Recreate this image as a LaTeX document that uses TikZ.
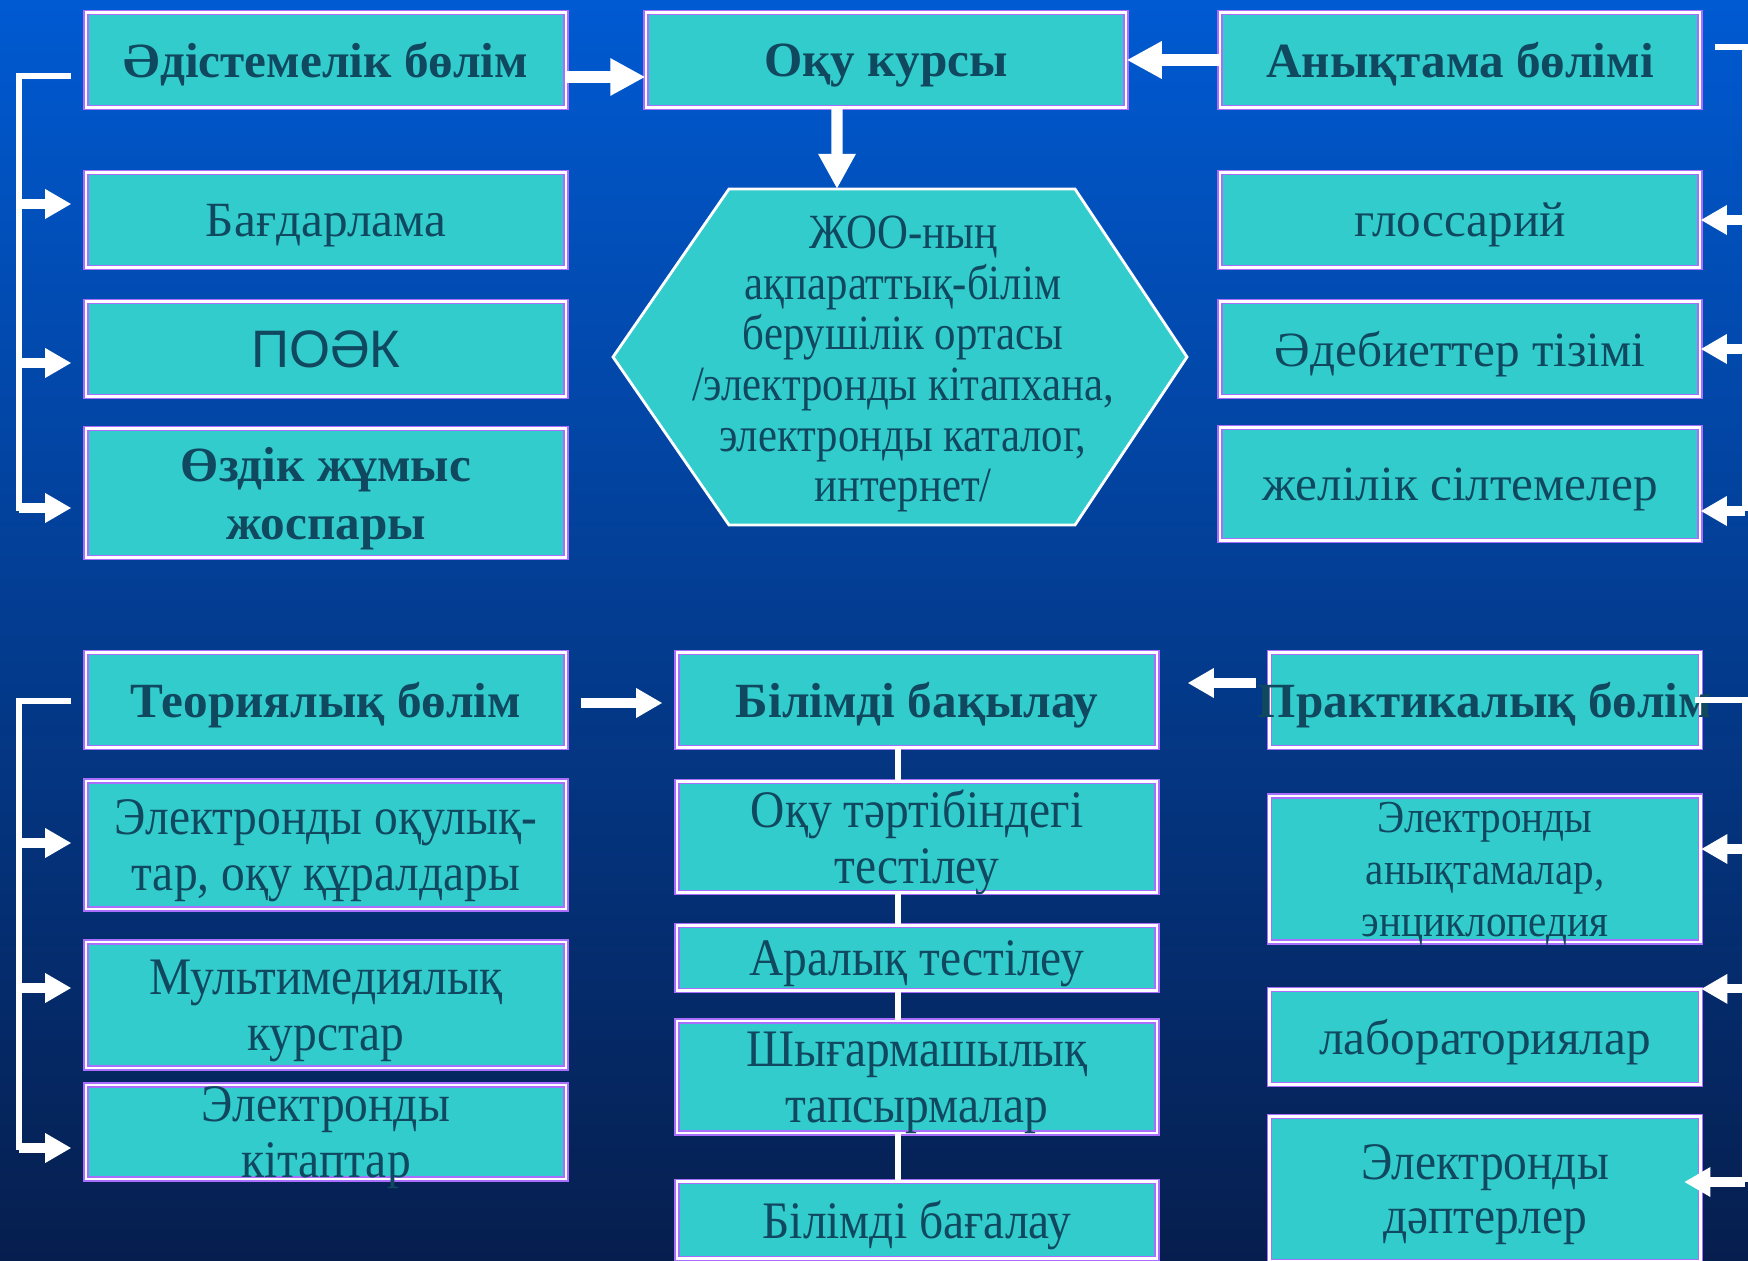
\documentclass[tikz,border=0pt]{standalone}
\usepackage{fontspec}
\setmainfont{Liberation Serif}
\newfontfamily\poakfont{Liberation Sans}
\newfontfamily\narrowfont[FakeStretch=0.9]{Liberation Serif}
\newfontfamily\hexfont[FakeStretch=0.87]{Liberation Serif}
\usetikzlibrary{arrows.meta}

\definecolor{boxfill}{RGB}{51,204,204}
\definecolor{boxtext}{RGB}{16,72,96}
\definecolor{boxedge}{RGB}{170,110,255}
\definecolor{bgtop}{RGB}{0,90,210}
\definecolor{bgmid}{RGB}{8,62,160}
\definecolor{bgbot}{RGB}{6,30,78}

\begin{document}
\begin{tikzpicture}[x=0.1mm,y=-0.1mm]
		\tikzstyle{box}=[draw=boxedge,line width=0.35pt,double=white,double distance=0.8pt,fill=boxfill,text=boxtext,align=center,inner sep=0pt,text depth=0pt,minimum width=48mm,minimum height=9.5mm,font=\fontsize{14}{14.5}\selectfont]
		\tikzstyle{headbox}=[box,font=\fontsize{14}{14.5}\selectfont\bfseries]
		\tikzstyle{bigbox}=[box,font=\fontsize{15}{16}\narrowfont]
		\tikzstyle{hexa}=[draw=white,line width=0.8pt,fill=boxfill]
		\tikzstyle{bracket}=[white,line width=1.7pt]
		\tikzstyle{link}=[white,line width=1.7pt]
		\tikzstyle{bigarrow}=[white,line width=3.2pt,arrows={-Triangle[width=10pt,length=10pt]}]
		\tikzstyle{sidearrow}=[white,line width=2.6pt,arrows={-Triangle[width=8pt,length=7.5pt]}]

		\useasboundingbox (0,0) rectangle (1748,1261);
		\shade[top color=bgtop,middle color=bgmid,bottom color=bgbot] (0,0) rectangle (1748,1261);

		% upper half
		\node[headbox] (method) at (326,60) {Әдістемелік бөлім};
		\node[headbox] (course) at (886,60) {Оқу курсы};
		\node[headbox] (reference) at (1460,60) {Анықтама бөлімі};
		\node[box] (program) at (326,220) {Бағдарлама};
		\node[box,font=\fontsize{15}{16}\poakfont] (poak) at (326,349) {ПОӘК};
		\node[headbox,minimum height=12.9mm,font=\fontsize{14}{16.5}\selectfont\bfseries] (selfwork) at (326,493) {Өздік жұмыс\\жоспары};
		\node[box] (glossary) at (1460,220) {глоссарий};
		\node[box] (literature) at (1460,349) {Әдебиеттер тізімі};
		\node[box,minimum height=11.3mm] (links) at (1460,484) {желілік сілтемелер};

		\draw[hexa] (613,357) -- (729,189) -- (1075,189) -- (1187,357) -- (1075,525) -- (729,525) -- cycle;
		\coordinate (hextop) at (837,189);
		\node[text=boxtext,align=center,text depth=0pt,font=\fontsize{14}{14.4}\hexfont] (env) at (903,359) {ЖОО-ның\\ақпараттық-білім\\берушілік ортасы\\/электронды кітапхана,\\электронды каталог,\\интернет/};

		\draw[bigarrow] ([yshift=-1.7mm]method.east) -- ([yshift=-1.7mm]course.west);
		\draw[bigarrow] (reference.west) -- (course.west -| course.east);
		\draw[bigarrow] ([xshift=-4.9mm]course.south) -- (hextop);

		\coordinate (lt) at (19,76);
		\coordinate (lb) at (19,511);
		\draw[bracket] ([xshift=-1.4mm,yshift=-1.6mm]method.west) -| (lb);
		\draw[sidearrow,shorten >=1.4mm] ([yshift=1.6mm]program.west -| lt) -- ([yshift=1.6mm]program.west);
		\draw[sidearrow,shorten >=1.4mm] ([yshift=-1.4mm]poak.west -| lt) -- ([yshift=-1.4mm]poak.west);
		\draw[sidearrow,shorten >=1.4mm] ([yshift=-1.5mm]selfwork.west -| lt) -- ([yshift=-1.5mm]selfwork.west);

		\coordinate (rt) at (1745,47);
		\coordinate (rb) at (1745,511);
		\draw[bracket] (1715,47) -- (rt) -- (rb);
		\draw[sidearrow] (glossary.east -| rt) -- (glossary.east);
		\draw[sidearrow] (literature.east -| rt) -- (literature.east);
		\draw[sidearrow] ([yshift=-2.7mm]links.east -| rt) -- ([yshift=-2.7mm]links.east);

		% lower half
		\node[headbox] (theory) at (326,700) {Теориялық бөлім};
		\node[headbox] (control) at (917,700) {Білімді бақылау};
		\node[headbox,minimum width=43.1mm] (practice) at (1485,700) {\makebox[0pt]{Практикалық бөлім}};

		\node[bigbox,minimum height=12.8mm] (textbooks) at (326,845) {Электронды оқулық-\\тар, оқу құралдары};
		\node[bigbox,minimum height=12.6mm] (multimedia) at (326,1005) {Мультимедиялық\\курстар};
		\node[bigbox,minimum height=9.4mm] (ebooks) at (326,1132) {Электронды\\кітаптар};

		\node[bigbox,minimum height=11.1mm] (testing) at (917,837) {Оқу тәртібіндегі\\тестілеу};
		\node[bigbox,minimum height=6.5mm] (midterm) at (917,958) {Аралық тестілеу};
		\node[bigbox,minimum height=11.2mm] (creative) at (917,1077) {Шығармашылық\\тапсырмалар};
		\node[bigbox,minimum height=7.7mm] (grading) at (917,1220) {Білімді бағалау};

		\node[box,minimum width=43.1mm,minimum height=14.6mm,font=\fontsize{13}{14.8}\narrowfont] (encyclopedia) at (1485,869) {Электронды\\анықтамалар,\\энциклопедия};
		\node[box,minimum width=43.1mm] (labs) at (1485,1037) {лабораториялар};
		\node[bigbox,minimum width=43.1mm,minimum height=14.5mm,font=\fontsize{15}{15.6}\narrowfont] (notebooks) at (1485,1189) {Электронды\\дәптерлер};

		\draw[sidearrow,shorten <=1.4mm,shorten >=1.4mm] ([yshift=-0.3mm]theory.east) -- ([yshift=-0.3mm]control.west);
		\draw[sidearrow,shorten <=1.3mm,shorten >=3mm] ([yshift=1.7mm]practice.west) -- ([yshift=1.7mm]control.east);

		\draw[link] ([xshift=-1.9mm]control.south) -- ([xshift=-1.9mm]testing.north);
		\draw[link] ([xshift=-1.9mm]testing.south) -- ([xshift=-1.9mm]midterm.north);
		\draw[link] ([xshift=-1.9mm]midterm.south) -- ([xshift=-1.9mm]creative.north);
		\draw[link] ([xshift=-1.9mm]creative.south) -- ([xshift=-1.9mm]grading.north);

		\coordinate (blt) at (19,699);
		\coordinate (blb) at (19,1150);
		\draw[bracket] ([xshift=-1.4mm,yshift=-0.1mm]theory.west) -| (blb);
		\draw[sidearrow,shorten >=1.4mm] ([yshift=0.2mm]textbooks.west -| blt) -- ([yshift=0.2mm]textbooks.west);
		\draw[sidearrow,shorten >=1.4mm] ([yshift=1.7mm]multimedia.west -| blt) -- ([yshift=1.7mm]multimedia.west);
		\draw[sidearrow,shorten >=1.4mm] ([yshift=-1.6mm]ebooks.west -| blt) -- ([yshift=-1.6mm]ebooks.west);

		\coordinate (brt) at (1745,700);
		\coordinate (brb) at (1745,1182);
		\draw[bracket] (1695,700) -- (brt) -- (brb);
		\draw[sidearrow] ([yshift=2mm]encyclopedia.east -| brt) -- ([yshift=2mm]encyclopedia.east);
		\draw[sidearrow] (labs.north east -| brt) -- (labs.north east);
		\draw[sidearrow,shorten >=-1.7mm] ([yshift=0.7mm]notebooks.east -| brt) -- ([yshift=0.7mm]notebooks.east);
		\end{tikzpicture}
\end{document}
